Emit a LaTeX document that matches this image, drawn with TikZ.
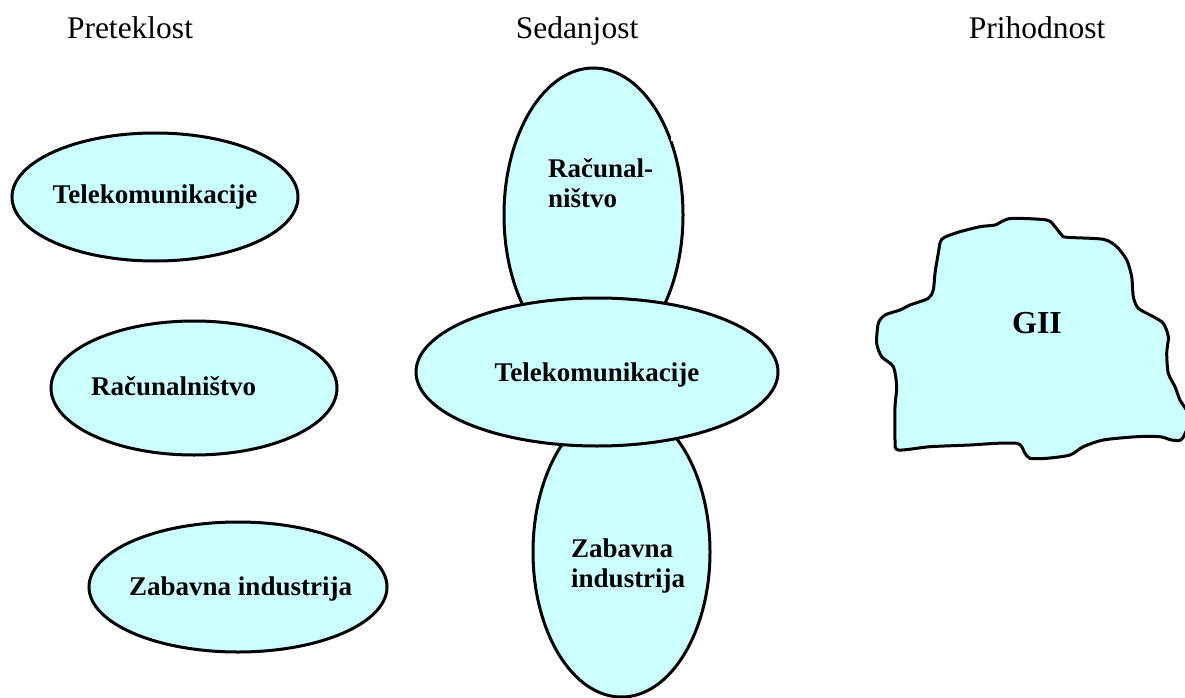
\documentclass[tikz,border=0pt]{standalone}
\usepackage{fontspec}
\setmainfont{Liberation Serif}
\usetikzlibrary{shapes.geometric}
\definecolor{fillc}{HTML}{CCFFFF}
\begin{document}
\begin{tikzpicture}[x=1pt,y=-1pt,
  oval/.style={ellipse, draw=black, line width=3pt, fill=fillc, inner sep=0pt},
  lbl/.style={font=\fontsize{27}{29.5}\selectfont\bfseries, inner sep=0pt},
  hdr/.style={font=\fontsize{31.5}{33}\selectfont, inner sep=0pt, anchor=base}]
\useasboundingbox (0,0) rectangle (1185,698);
% headers
\node[hdr] (h1) at (130,39) {Preteklost};
\node[hdr] (h2) at (577,39) {Sedanjost};
\node[hdr] (h3) at (1037,39) {Prihodnost};
% past
\node[oval, minimum width=286pt, minimum height=128pt] (p1) at (155,197) {};
\node[lbl, anchor=base] (p1t) at (155,203) {Telekomunikacije};
\node[oval, minimum width=286pt, minimum height=134pt] (p2) at (194,388) {};
\node[lbl, anchor=base west] (p2t) at (91,395) {Računalništvo};
\node[oval, minimum width=298pt, minimum height=130pt] (p3) at (238,587) {};
\node[lbl, anchor=base west] (p3t) at (129,595) {Zabavna industrija};
% present
\node[oval, minimum width=179pt, minimum height=294pt] (s1) at (593.5,215) {};
\fill[white] (671,118) rectangle (690,141);
\node[oval, minimum width=177pt, minimum height=290pt] (s3) at (621.5,552) {};
\node[oval, minimum width=362pt, minimum height=148pt] (s2) at (597,372) {};
\node[lbl, anchor=base west, align=left] (s1t) at (548,207) {Računal-\\ništvo};
\node[lbl, anchor=base] (s2t) at (597,381) {Telekomunikacije};
\node[lbl, anchor=base west, align=left] (s3t) at (571,587) {Zabavna\\industrija};
% future
\draw[line width=3pt, fill=fillc] plot[smooth cycle, tension=0.45] coordinates {
 (941.7,239.3) (956.7,232.7) (980,226.7) (995,225) (1003.3,220.7) (1013.3,218.3)
 (1046.7,220) (1055,226.7) (1061.7,235) (1066.7,237.3) (1103.3,239.3) (1116.7,246.7)
 (1126.7,260) (1131.7,276.7) (1133.3,296.7) (1138.3,308.3) (1153.3,316.7) (1163.3,323.3)
 (1168.3,336.7) (1166.7,353.3) (1168.3,373.3) (1175,386.7) (1180,400) (1190,418)
 (1182,439) (1171.7,440) (1160,436.7) (1136.7,436.7) (1103.3,440) (1083.3,446.7)
 (1070,455) (1046.7,458.3) (1030,458.3) (1025,453.3) (1021.7,446.7) (1016.7,443.3)
 (996.7,443.3) (970,445) (930,446.7) (898.3,450) (895,440) (895,406.7) (896.7,386.7)
 (893.3,366.7) (881.7,356.7) (876.7,343.3) (878.3,323.3) (885,315) (900,310) (910,305)
 (928.3,298.3) (933.3,290) (935,273.3) (938.3,253.3)};
\node[font=\fontsize{32}{34}\selectfont\bfseries, inner sep=0pt, anchor=base] (g) at (1037,333) {GII};
\end{tikzpicture}
\end{document}
